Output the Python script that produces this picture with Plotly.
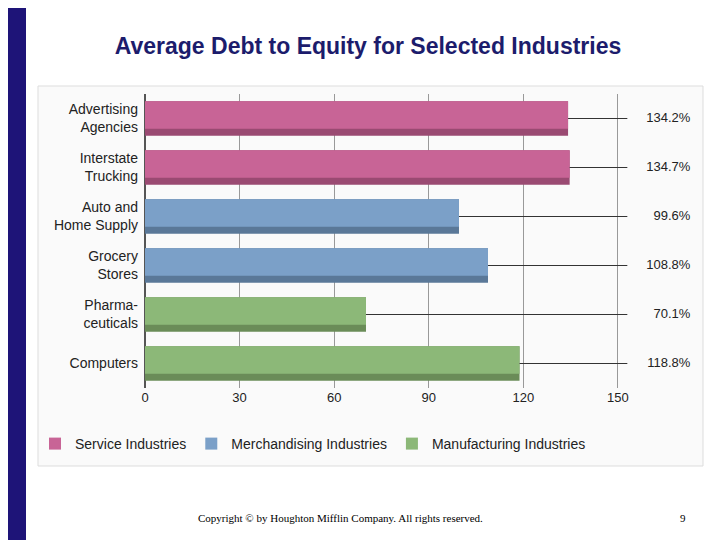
import plotly.graph_objects as go

categories = ["Advertising<br>Agencies", "Interstate<br>Trucking", "Auto and<br>Home Supply",
              "Grocery<br>Stores", "Pharma-<br>ceuticals", "Computers"]
values = [134.2, 134.7, 99.6, 108.8, 70.1, 118.8]
groups = ["Service Industries", "Service Industries", "Merchandising Industries",
          "Merchandising Industries", "Manufacturing Industries", "Manufacturing Industries"]
x_ticks = [0, 30, 60, 90, 120, 150]

light = {"Service Industries": "#c86496", "Merchandising Industries": "#7ba0c8",
         "Manufacturing Industries": "#8cb878"}
dark = {"Service Industries": "#9a4a72", "Merchandising Industries": "#5a7898",
        "Manufacturing Industries": "#6a8c58"}

fig = go.Figure()

# leader lines from bar end to the labels
lx, ly = [], []
for c, v in zip(categories, values):
    lx += [v, 153, None]
    ly += [c, c, None]
fig.add_trace(go.Scatter(x=lx, y=ly, mode="lines", line=dict(color="#333333", width=1),
                         showlegend=False, hoverinfo="skip"))

for g in ["Service Industries", "Merchandising Industries", "Manufacturing Industries"]:
    cs = [c for c, gg in zip(categories, groups) if gg == g]
    vs = [v for v, gg in zip(values, groups) if gg == g]
    fig.add_trace(go.Bar(y=cs, x=vs, orientation="h", width=0.7, marker_color=dark[g],
                         marker_line_width=0, showlegend=False, legendgroup=g))
    fig.add_trace(go.Bar(y=cs, x=vs, orientation="h", width=0.56, offset=-0.35,
                         marker_color=light[g], marker_line_width=0, name=g, legendgroup=g))

fig.add_trace(go.Scatter(x=[173] * len(values), y=categories, mode="text",
                         text=[f"{v}%" for v in values], textposition="middle left",
                         textfont=dict(size=13, color="#222222"), showlegend=False,
                         hoverinfo="skip"))

W = 558
H = 294
fig.update_layout(
    width=720, height=540, barmode="overlay",
    paper_bgcolor="white", plot_bgcolor="rgba(0,0,0,0)",
    font=dict(family="Liberation Sans, Arial", color="#222222", size=14),
    margin=dict(l=137, r=25, t=86, b=160, autoexpand=False),
    title=dict(text="<b>Average Debt to Equity for Selected Industries</b>",
               x=0.5, xanchor="center", y=0.93, yanchor="middle",
               font=dict(size=23, color="#1c1c6c", family="Liberation Sans, Arial")),
    legend=dict(orientation="h", x=-110 / W, y=-40 / H, xanchor="left", yanchor="top",
                font=dict(size=14), traceorder="normal", bgcolor="rgba(0,0,0,0)"),
)
fig.add_shape(type="rect", xref="paper", yref="paper", x0=-107 / W, x1=1.0, y0=-78 / H,
              y1=1 + 8 / H, line=dict(color="#dddddd", width=1), fillcolor="#fafafa", layer="below")
fig.add_shape(type="rect", xref="paper", yref="paper", x0=-137 / W, x1=-119 / W, y0=-160 / H,
              y1=1 + 86 / H, line_width=0, fillcolor="#1e1478", layer="below")

fig.update_xaxes(range=[0, 177], tickvals=x_ticks, showgrid=True, gridcolor="#999999",
                 gridwidth=1, zeroline=True, zerolinecolor="#555555", showline=False,
                 ticks="", tickfont=dict(size=13), automargin=False)
fig.update_yaxes(autorange="reversed", showgrid=False, ticks="", tickfont=dict(size=14),
                 ticklabelstandoff=6, automargin=False)

fig.add_annotation(text="Copyright © by Houghton Mifflin Company. All rights reserved.",
                   xref="paper", yref="paper", x=195 / W, y=-138 / H, showarrow=False,
                   font=dict(family="Liberation Serif, Times New Roman", size=11, color="#000000"))
fig.add_annotation(text="9", xref="paper", yref="paper", x=543 / W, y=-138 / H,
                   showarrow=False, font=dict(family="Liberation Serif", size=11, color="#000000"))

fig.write_html("out.html")
